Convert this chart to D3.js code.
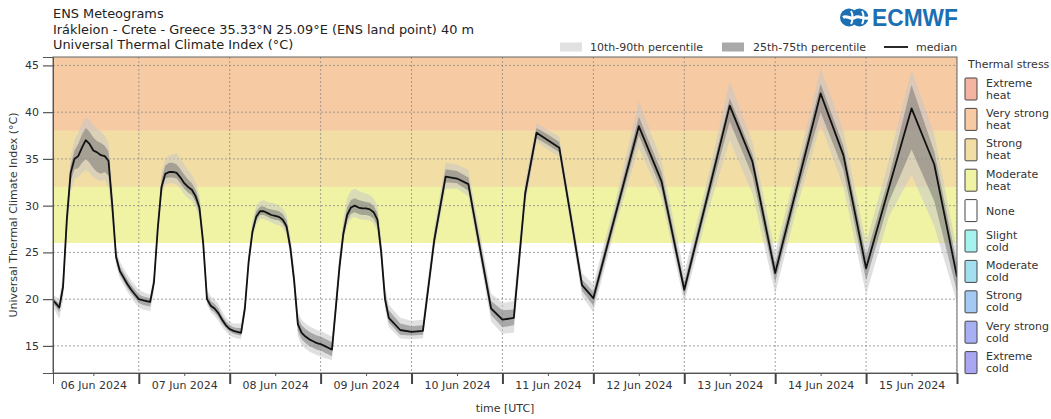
<!DOCTYPE html>
<html>
<head>
<meta charset="utf-8">
<script src="https://cdn.jsdelivr.net/npm/d3@7"></script>
<style>
  body { margin: 0; background: #fff; }
  svg { font-family: "DejaVu Sans", sans-serif; }
  .tick text { fill: #333; }
</style>
</head>
<body>
<div id="chart"></div>
<script>
// UTCI ENS meteogram, Iraklion, run 06 Jun 2024 00 UTC
// forecast step in hours since 06 Jun 2024 00 UTC
const steps = [
  1, 2, 3, 4, 5, 6, 7, 8, 9, 10, 11, 12, 13, 14, 15, 16, 17, 18, 19, 20, 21, 22, 23, 24,
  25, 26, 27, 28, 29, 30, 31, 32, 33, 34, 35, 36, 37, 38, 39, 40, 41, 42, 43, 44, 45, 46, 47, 48,
  49, 50, 51, 52, 53, 54, 55, 56, 57, 58, 59, 60, 61, 62, 63, 64, 65, 66, 67, 68, 69, 70, 71, 72,
  73, 74, 75, 76, 77, 78, 79, 80, 81, 82, 83, 84, 85, 86, 87, 88, 89, 90,
  93, 96, 99, 102, 105, 108, 111, 114, 117, 120, 123, 126, 129, 132, 135, 138, 141, 144,
  150, 156, 162, 168, 174, 180, 186, 192, 198, 204, 210, 216, 222, 228, 234, 240
]
const median = [
  20.0, 19.6, 19.1, 21.3, 28.5, 33.5, 35.0, 35.3, 36.2, 37.0, 36.6, 35.9, 35.7, 35.4, 35.3, 34.8, 30.0, 24.5, 23.0, 22.3, 21.6, 21.0, 20.5, 20.0,
  19.9, 19.8, 19.7, 21.8, 27.5, 32.0, 33.4, 33.6, 33.6, 33.5, 33.0, 32.4, 32.0, 31.7, 31.0, 29.8, 26.0, 20.0, 19.3, 19.0, 18.5, 17.8, 17.2, 16.8,
  16.6, 16.5, 16.4, 19.0, 24.0, 27.2, 28.8, 29.4, 29.4, 29.2, 29.0, 28.9, 28.8, 28.5, 27.8, 25.5, 22.0, 17.3, 16.4, 16.0, 15.7, 15.5, 15.3, 15.2,
  15.0, 14.8, 14.6, 19.0, 23.5, 27.0, 29.0, 29.8, 30.0, 29.8, 29.7, 29.7, 29.6, 29.3, 28.5, 25.0, 20.0, 18.0,
  16.7, 16.5, 16.6, 26.3, 33.1, 32.9, 32.3, 25.6, 19.0, 17.8, 18.0, 31.3, 37.8, 37.0, 36.2, 28.9, 21.5, 20.1,
  29.3, 38.5, 32.6, 21.0, 30.8, 40.7, 34.7, 22.8, 32.4, 42.0, 35.4, 23.3, 31.9, 40.4, 34.4, 22.4
]
const p10 = [
  19.3, 18.7, 17.9, 19.8, 26.8, 31.5, 32.8, 33.0, 33.5, 33.8, 33.5, 33.0, 32.8, 32.6, 32.8, 32.0, 28.2, 23.6, 22.2, 21.5, 20.8, 20.2, 19.6, 19.1,
  18.9, 18.8, 18.7, 20.8, 26.5, 31.0, 32.3, 32.4, 32.4, 32.3, 31.8, 31.2, 30.8, 30.5, 29.8, 28.6, 25.0, 19.4, 18.6, 18.2, 17.7, 17.0, 16.5, 16.1,
  15.9, 15.8, 15.7, 18.3, 23.3, 26.5, 28.0, 28.6, 28.6, 28.4, 28.2, 28.0, 27.9, 27.6, 26.9, 24.6, 21.0, 16.0, 15.1, 14.7, 14.4, 14.2, 14.0, 13.9,
  13.7, 13.6, 13.5, 18.0, 22.5, 26.0, 27.9, 28.6, 28.8, 28.6, 28.5, 28.5, 28.4, 28.1, 27.3, 23.8, 19.0, 17.0,
  15.8, 15.7, 15.8, 25.3, 31.8, 31.8, 31.0, 24.4, 17.6, 16.3, 16.4, 30.0, 36.8, 36.0, 35.2, 27.8, 20.3, 18.6,
  28.0, 36.2, 30.8, 19.6, 29.0, 37.0, 31.3, 20.6, 30.2, 38.7, 32.0, 20.5, 28.8, 33.3, 27.8, 19.6
]
const p25 = [
  19.7, 19.2, 18.6, 20.6, 27.8, 32.6, 33.9, 34.0, 34.6, 35.0, 34.6, 34.0, 33.6, 33.4, 33.6, 33.2, 29.2, 24.0, 22.6, 21.9, 21.2, 20.6, 20.1, 19.6,
  19.4, 19.3, 19.2, 21.3, 27.0, 31.5, 32.9, 33.0, 33.0, 32.9, 32.4, 31.8, 31.4, 31.1, 30.4, 29.2, 25.5, 19.7, 18.9, 18.6, 18.1, 17.4, 16.9, 16.5,
  16.3, 16.2, 16.1, 18.7, 23.7, 26.9, 28.4, 29.0, 29.0, 28.8, 28.6, 28.5, 28.4, 28.1, 27.3, 25.0, 21.5, 16.6, 15.7, 15.3, 15.0, 14.8, 14.6, 14.5,
  14.3, 14.1, 13.9, 18.4, 23.0, 26.5, 28.4, 29.1, 29.3, 29.1, 29.0, 29.0, 28.9, 28.6, 27.8, 24.3, 19.5, 17.5,
  16.2, 16.1, 16.2, 25.8, 32.5, 32.4, 31.6, 25.0, 18.3, 17.0, 17.2, 30.6, 37.2, 36.5, 35.7, 28.4, 20.9, 19.3,
  28.6, 37.5, 31.7, 20.3, 30.0, 39.0, 33.2, 21.8, 31.4, 40.0, 33.8, 22.0, 30.4, 36.0, 30.5, 20.8
]
const p75 = [
  20.3, 19.9, 19.5, 22.0, 29.2, 34.3, 35.9, 36.6, 37.6, 38.3, 37.9, 37.3, 36.9, 36.7, 36.4, 35.8, 31.0, 25.0, 23.5, 22.8, 22.1, 21.5, 21.0, 20.5,
  20.3, 20.2, 20.1, 22.3, 28.2, 32.8, 34.3, 34.6, 34.6, 34.4, 33.9, 33.3, 32.8, 32.4, 31.7, 30.5, 26.6, 20.5, 19.8, 19.5, 19.0, 18.2, 17.6, 17.2,
  17.0, 16.9, 16.9, 19.5, 24.6, 27.8, 29.4, 29.9, 29.9, 29.7, 29.6, 29.5, 29.4, 29.1, 28.4, 26.2, 22.8, 18.0, 17.2, 16.8, 16.5, 16.3, 16.1, 16.0,
  15.8, 15.6, 15.4, 19.8, 24.3, 27.8, 29.8, 30.6, 30.8, 30.6, 30.5, 30.4, 30.3, 30.0, 29.2, 25.7, 20.8, 18.8,
  17.4, 17.1, 17.2, 27.0, 33.9, 33.7, 33.0, 26.4, 19.8, 18.8, 18.9, 32.0, 38.3, 37.6, 36.8, 29.5, 22.1, 20.8,
  30.0, 39.5, 33.6, 21.8, 31.6, 41.5, 35.5, 23.8, 33.4, 43.0, 36.4, 24.6, 33.0, 42.9, 35.8, 23.8
]
const p90 = [
  20.6, 20.3, 20.0, 22.8, 30.0, 35.2, 37.0, 37.8, 38.8, 39.4, 39.2, 38.6, 38.2, 37.9, 37.5, 36.8, 32.0, 25.6, 24.0, 23.3, 22.6, 22.0, 21.5, 21.0,
  20.8, 20.6, 20.5, 22.8, 28.8, 33.6, 35.0, 35.4, 35.5, 35.6, 35.0, 34.4, 33.8, 33.3, 32.5, 31.2, 27.2, 21.0, 20.3, 20.0, 19.5, 18.7, 18.0, 17.6,
  17.4, 17.4, 17.4, 20.0, 25.2, 28.4, 30.0, 30.5, 30.6, 30.4, 30.3, 30.2, 30.0, 29.7, 29.0, 26.8, 23.4, 18.6, 17.8, 17.4, 17.1, 16.9, 16.7, 16.6,
  16.4, 16.2, 16.0, 20.5, 25.0, 28.6, 30.8, 31.6, 31.8, 31.6, 31.4, 31.3, 31.1, 30.8, 30.0, 26.5, 21.4, 19.4,
  18.0, 17.7, 17.8, 27.7, 34.6, 34.4, 33.8, 27.2, 20.6, 19.6, 19.8, 32.8, 38.8, 38.1, 37.4, 30.1, 22.8, 21.6,
  30.8, 41.2, 34.8, 22.8, 32.6, 43.3, 36.8, 25.0, 34.6, 44.7, 38.0, 26.0, 34.8, 44.5, 37.6, 25.2
]

// UTCI thermal stress classes, lower bound of each class in degC
const stressNames = [
  "Extreme heat", "Very strong heat", "Strong heat", "Moderate heat", "None",
  "Slight cold", "Moderate cold", "Strong cold", "Very strong cold", "Extreme cold"
]
const stressLabels = [
  ["Extreme", "heat"], ["Very strong", "heat"], ["Strong", "heat"], ["Moderate", "heat"], ["None"],
  ["Slight", "cold"], ["Moderate", "cold"], ["Strong", "cold"], ["Very strong", "cold"], ["Extreme", "cold"]
]
const stressLower = [46, 38, 32, 26, 9, 0, -13, -27, -40, -80]
const stressUpper = [80, 46, 38, 32, 26, 9, 0, -13, -27, -40]
const yTicks = [15, 20, 25, 30, 35, 40, 45]

const width = 1051
const height = 419
const margin = { top: 57, right: 94, bottom: 46, left: 53 }
const t0 = Date.UTC(2024, 5, 6)
const toDate = (h) => new Date(t0 + h * 3600e3)

const colour = d3
  .scaleOrdinal()
  .domain(stressNames)
  .range(["#f4b4a2", "#f6caa2", "#f2dea5", "#f1f3a4", "#ffffff",
          "#a6f2ef", "#a2e0f0", "#a4c9f2", "#a6b0f2", "#aaa6f2"])

const data = steps.map((h, i) => ({
  t: toDate(h),
  med: median[i],
  p10: p10[i],
  p25: p25[i],
  p75: p75[i],
  p90: p90[i],
}))

const svg = d3
  .select("#chart")
  .append("svg")
  .attr("width", width)
  .attr("height", height)

const x = d3
  .scaleUtc()
  .domain([toDate(1.35), toDate(240)])
  .range([margin.left, width - margin.right])

const y = d3
  .scaleLinear()
  .domain([12.1, 45.9])
  .range([height - margin.bottom, margin.top])

svg.append("clipPath").attr("id", "plot-clip")
  .append("rect")
  .attr("x", margin.left)
  .attr("y", margin.top)
  .attr("width", width - margin.left - margin.right)
  .attr("height", height - margin.top - margin.bottom)

const plot = svg.append("g").attr("clip-path", "url(#plot-clip)")

// thermal stress background bands
plot.selectAll("rect.band")
  .data(stressNames)
  .join("rect")
  .attr("class", "band")
  .attr("x", margin.left)
  .attr("width", width - margin.left - margin.right)
  .attr("y", (d, i) => y(Math.min(stressUpper[i], 45.9)))
  .attr("height", (d, i) => Math.max(0, y(Math.max(stressLower[i], 12.1)) - y(Math.min(stressUpper[i], 45.9))))
  .attr("fill", (d) => colour(d))

// dotted grid
const days = d3.utcDay.range(toDate(24), toDate(241))
plot.selectAll("line.hgrid")
  .data(yTicks)
  .join("line")
  .attr("x1", margin.left)
  .attr("x2", width - margin.right)
  .attr("y1", (d) => y(d))
  .attr("y2", (d) => y(d))
  .attr("stroke", "#8a8a8a")
  .attr("stroke-width", 0.8)
  .attr("stroke-dasharray", "2,2")
plot.selectAll("line.vgrid")
  .data(days)
  .join("line")
  .attr("x1", (d) => x(d))
  .attr("x2", (d) => x(d))
  .attr("y1", margin.top)
  .attr("y2", height - margin.bottom)
  .attr("stroke", "#8a8a8a")
  .attr("stroke-width", 0.8)
  .attr("stroke-dasharray", "2,2")

// ensemble spread
const area = (lo, hi) => d3.area()
  .x((d) => x(d.t))
  .y0((d) => y(d[lo]))
  .y1((d) => y(d[hi]))

plot.append("path")
  .datum(data)
  .attr("d", area("p10", "p90"))
  .attr("fill", "#c6c6c6")
  .attr("fill-opacity", 0.55)

plot.append("path")
  .datum(data)
  .attr("d", area("p25", "p75"))
  .attr("fill", "#707070")
  .attr("fill-opacity", 0.5)

plot.append("path")
  .datum(data)
  .attr("d", d3.line().x((d) => x(d.t)).y((d) => y(d.med)))
  .attr("fill", "none")
  .attr("stroke", "#111")
  .attr("stroke-width", 1.8)
  .attr("stroke-linejoin", "round")

// frame
svg.append("rect")
  .attr("x", margin.left)
  .attr("y", margin.top)
  .attr("width", width - margin.left - margin.right)
  .attr("height", height - margin.top - margin.bottom)
  .attr("fill", "none")
  .attr("stroke", "#666")
  .attr("stroke-width", 1)

// y axis
svg.append("g")
  .attr("transform", `translate(${margin.left},0)`)
  .call(d3.axisLeft(y).tickValues(yTicks).tickSize(10).tickPadding(4))
  .call((g) => g.select(".domain").attr("stroke", "#555"))
  .call((g) => g.selectAll(".tick line").attr("stroke", "#555").attr("stroke-width", 1.2))
  .attr("font-size", 11)
  .attr("font-family", "DejaVu Sans")

// x axis: day boundaries (long ticks) and noon labels
svg.append("g")
  .attr("transform", `translate(0,${height - margin.bottom})`)
  .call(d3.axisBottom(x).tickValues(days).tickSize(11).tickFormat(""))
  .call((g) => g.select(".domain").attr("stroke", "#555"))
  .call((g) => g.selectAll(".tick line").attr("stroke", "#444").attr("stroke-width", 2))

const noons = d3.utcDay.range(toDate(0), toDate(240)).map((d) => d3.utcHour.offset(d, 12))
svg.append("g")
  .attr("transform", `translate(0,${height - margin.bottom})`)
  .call(d3.axisBottom(x).tickValues(noons).tickSize(3).tickPadding(5).tickFormat(d3.utcFormat("%d %b %Y")))
  .call((g) => g.select(".domain").remove())
  .call((g) => g.selectAll(".tick line").attr("stroke", "#555"))
  .attr("font-size", 11)
  .attr("font-family", "DejaVu Sans")

svg.append("text")
  .attr("x", (margin.left + width - margin.right) / 2)
  .attr("y", 412)
  .attr("text-anchor", "middle")
  .attr("font-size", 11)
  .attr("fill", "#333")
  .text("time [UTC]")

svg.append("text")
  .attr("transform", `translate(17,${(margin.top + height - margin.bottom) / 2}) rotate(-90)`)
  .attr("text-anchor", "middle")
  .attr("font-size", 11)
  .attr("fill", "#333")
  .text("Universal Thermal Climate Index (°C)")

// titles
const titles = [
  "ENS Meteograms",
  "Irákleion - Crete - Greece 35.33°N 25.09°E (ENS land point) 40 m",
  "Universal Thermal Climate Index (°C)",
]
svg.selectAll("text.title")
  .data(titles)
  .join("text")
  .attr("class", "title")
  .attr("x", margin.left)
  .attr("y", (d, i) => 18 + i * 15.5)
  .attr("font-size", 12.9)
  .attr("fill", "#222")
  .text((d) => d)

// top legend
const topLegend = svg.append("g").attr("font-size", 11).attr("fill", "#333")
topLegend.append("rect").attr("x", 560).attr("y", 42.5).attr("width", 22).attr("height", 9).attr("fill", "#e1e1e1")
topLegend.append("text").attr("x", 590).attr("y", 51).text("10th-90th percentile")
topLegend.append("rect").attr("x", 722).attr("y", 42.5).attr("width", 22).attr("height", 9).attr("fill", "#a9a9a9")
topLegend.append("text").attr("x", 753).attr("y", 51).text("25th-75th percentile")
topLegend.append("line").attr("x1", 884).attr("x2", 908).attr("y1", 47).attr("y2", 47).attr("stroke", "#111").attr("stroke-width", 1.8)
topLegend.append("text").attr("x", 916).attr("y", 51).text("median")

// thermal stress legend
const side = svg.append("g").attr("font-size", 11).attr("fill", "#333")
side.append("text").attr("x", 968).attr("y", 68).text("Thermal stress")
const item = side.selectAll("g.item")
  .data(stressNames)
  .join("g")
  .attr("class", "item")
  .attr("transform", (d, i) => `translate(965,${78 + i * 30.4})`)
item.append("rect")
  .attr("width", 12)
  .attr("height", 22)
  .attr("rx", 1)
  .attr("fill", (d) => colour(d))
  .attr("stroke", "#444")
  .attr("stroke-width", 1)
item.each(function (d, i) {
  const lines = stressLabels[i]
  const g = d3.select(this)
  lines.forEach((l, j) => {
    g.append("text")
      .attr("x", 21)
      .attr("y", lines.length === 1 ? 15 : 8.5 + j * 12)
      .text(l)
  })
})

// ECMWF logo
const logo = svg.append("g").attr("transform", "translate(840,8)")
logo.append("circle").attr("cx", 9).attr("cy", 9.5).attr("r", 9).attr("fill", "#1c6fb3")
logo.append("circle").attr("cx", 19.5).attr("cy", 9.5).attr("r", 9).attr("fill", "#1c6fb3")
logo.append("path")
  .attr("d", "M3,9.5 C7,6.5 11,12.5 15,9.5 C19,6.5 23,12.5 30,9.5")
  .attr("fill", "none")
  .attr("stroke", "#fff")
  .attr("stroke-width", 3)
logo.append("path")
  .attr("d", "M11,3 C13,6 13,13 11,16 M22,3 C24,6 24,13 22,16")
  .attr("fill", "none")
  .attr("stroke", "#fff")
  .attr("stroke-width", 2)
logo.append("text")
  .attr("x", 32)
  .attr("y", 18)
  .attr("font-family", "Liberation Sans")
  .attr("font-weight", "bold")
  .attr("font-size", 24)
  .attr("textLength", 86)
  .attr("lengthAdjust", "spacingAndGlyphs")
  .attr("fill", "#1c6fb3")
  .text("ECMWF")
</script>
</body>
</html>
